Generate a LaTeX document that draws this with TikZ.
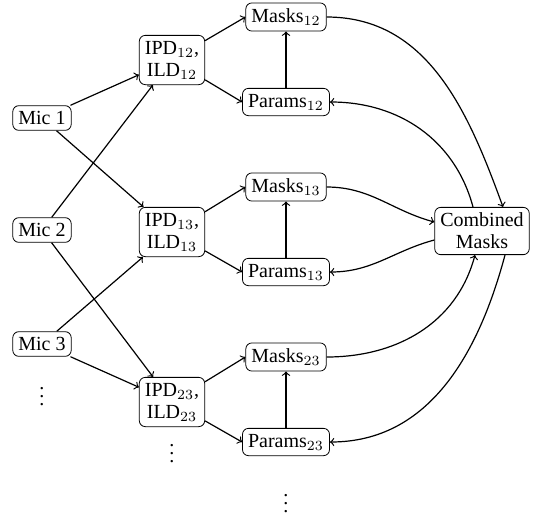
\documentclass[tikz,border=0pt]{standalone}
\usepackage{fontspec}
\setmainfont{Liberation Serif}
\begin{document}
\begin{tikzpicture}[x=0.5pt,y=-0.5pt,
  box/.style={draw,rounded corners=3pt,align=center,inner sep=2.8pt,font=\fontsize{10}{11}\selectfont},
  dots/.style={inner sep=0pt,font=\fontsize{10}{11}\selectfont},
  link/.style={->,semithick}]
\useasboundingbox (0,0) rectangle (537,516);
% microphones
\node[box] (mic1) at (42,118) {Mic 1};
\node[box] (mic2) at (42,230) {Mic 2};
\node[box] (mic3) at (42,344) {Mic 3};
\node[dots] (d1) at (42,391) {$\vdots$};
% pairwise features
\node[box] (f12) at (172,60) {IPD$_{12}$,\\ILD$_{12}$};
\node[box] (f13) at (172,232) {IPD$_{13}$,\\ILD$_{13}$};
\node[box] (f23) at (172,402) {IPD$_{23}$,\\ILD$_{23}$};
\node[dots] (d2) at (172,448) {$\vdots$};
% masks and parameters
\node[box] (m12) at (286,17) {Masks$_{12}$};
\node[box] (p12) at (286,102) {Params$_{12}$};
\node[box] (m13) at (286,187) {Masks$_{13}$};
\node[box] (p13) at (286,272) {Params$_{13}$};
\node[box] (m23) at (286,357) {Masks$_{23}$};
\node[box] (p23) at (286,442) {Params$_{23}$};
\node[dots] (d3) at (286,498) {$\vdots$};
% combination
\node[box] (cm) at (482,231) {Combined\\Masks};
% microphone pairs
\draw[link] (mic1) -- (f12);
\draw[link] (mic1) -- (f13);
\draw[link] (mic2) -- (f12);
\draw[link] (mic2) -- (f23);
\draw[link] (mic3) -- (f13);
\draw[link] (mic3) -- (f23);
% features to masks and parameters
\foreach \k in {12,13,23}{
  \draw[link] (f\k) -- (m\k.west);
  \draw[link] (f\k) -- (p\k.west);
  \draw[link] (p\k.north) -- (m\k.south);
}
% feedback through the combined masks
\draw[link] (m12.east) to[out=0,in=110] ([xshift=10.5pt]cm.north);
\draw[link] ([xshift=-4.5pt]cm.north) to[out=105,in=0] (p12.east);
\draw[link] (m13.east) to[out=0,in=165] ([yshift=4.5pt]cm.west);
\draw[link] ([yshift=-4.5pt]cm.west) to[out=195,in=0] (p13.east);
\draw[link] (m23.east) to[out=0,in=255] ([xshift=-3.5pt]cm.south);
\draw[link] ([xshift=11.5pt]cm.south) to[out=-105,in=0] (p23.east);
\end{tikzpicture}
\end{document}
